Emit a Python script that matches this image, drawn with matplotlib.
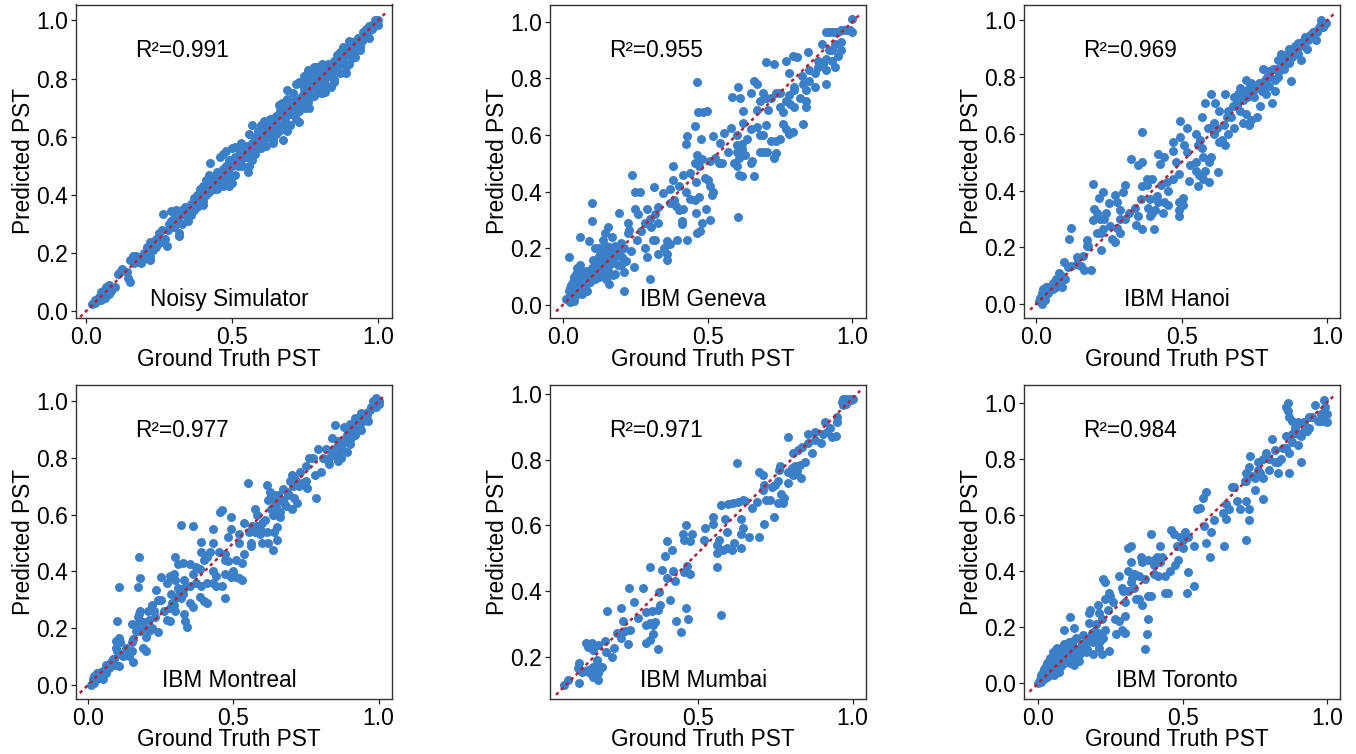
import matplotlib
matplotlib.use("Agg")
import matplotlib.pyplot as plt

plt.rcParams['font.family'] = ['Liberation Sans', 'DejaVu Sans']

names = ["Noisy Simulator", "IBM Geneva", "IBM Hanoi", "IBM Montreal", "IBM Mumbai", "IBM Toronto"]
r2_labels = ["R²=0.991", "R²=0.955", "R²=0.969", "R²=0.977", "R²=0.971", "R²=0.984"]

noisy_points = [
(.02,.025),(.03,.03),(.03,.04),(.04,.04),(.045,.05),(.05,.04),(.05,.065),(.06,.05),(.06,.07),(.065,.045),(.07,.085),(.07,.065),(.08,.06),(.08,.09),(.085,.07),(.09,.08),(.10,.085),
(.115,.135),(.125,.145),(.14,.135),(.145,.115),(.15,.10),(.15,.175),(.16,.19),(.165,.165),(.18,.17),(.19,.165),(.2,.20),(.2,.18),(.21,.22),(.22,.24),(.22,.19),(.22,.175),(.23,.21),(.24,.25),(.24,.22),(.25,.27),(.25,.235),(.26,.28),(.27,.25),(.28,.28),(.278,.225),(.285,.30),
(.265,.335),(.29,.345),(.3,.32),(.3,.29),(.31,.35),(.31,.30),(.32,.33),(.32,.27),(.33,.35),(.33,.30),(.32,.26),(.34,.36),(.34,.33),(.35,.31),(.36,.37),(.36,.33),(.37,.39),(.37,.35),(.38,.40),(.38,.36),(.385,.365),(.39,.42),(.40,.43),(.40,.38),(.41,.45),(.41,.40),(.42,.47),(.42,.41),(.40,.365),
(.424,.511),(.43,.44),(.44,.46),(.45,.48),(.45,.42),(.46,.53),(.47,.54),(.47,.49),(.47,.43),(.48,.50),(.48,.45),(.49,.52),(.49,.43),(.5,.56),(.5,.50),(.5,.44),(.51,.53),(.51,.47),(.52,.56),(.52,.50),(.53,.58),(.53,.52),(.54,.55),(.55,.57),(.55,.53),(.555,.48),(.56,.50),(.57,.58),(.57,.52),(.58,.60),(.58,.54),(.59,.62),(.59,.56),(.6,.58),(.6,.56),(.61,.63),(.61,.59),(.62,.65),(.62,.60),(.63,.66),(.63,.60),(.64,.63),(.64,.58),(.65,.65),(.65,.61),(.66,.67),(.66,.62),(.67,.70),(.67,.64),(.675,.59),
(.63,.65),(.65,.67),(.68,.72),(.68,.66),(.69,.73),(.69,.69),(.69,.62),(.7,.68),(.7,.64),(.71,.75),(.71,.70),(.72,.73),(.72,.66),(.73,.69),(.73,.65),(.74,.78),(.74,.74),(.75,.79),(.75,.70),(.76,.76),(.76,.72),(.77,.81),(.77,.74),(.78,.82),(.78,.77),(.79,.84),(.79,.76),(.8,.80),(.8,.76),(.81,.85),(.81,.82),(.81,.75),(.82,.80),(.82,.78),(.83,.85),(.83,.81),(.84,.84),(.84,.81),(.85,.86),(.85,.80),(.86,.88),(.86,.84),(.87,.89),(.87,.85),(.88,.91),(.88,.86),(.89,.90),(.89,.82),(.9,.93),(.9,.88),(.91,.90),(.91,.87),(.92,.93),(.92,.90),(.93,.94),(.94,.91),(.95,.96),(.95,.94),(.96,.97),(.97,.94),(.97,.98),(.98,.97),(.99,1.0),(1.0,1.0),(1.0,.985),
(.07,.075),(.11,.13),(.17,.19),(.185,.185),(.21,.20),(.23,.235),(.255,.25),(.29,.31),(.315,.315),(.345,.345),(.355,.355),(.375,.375),(.395,.395),(.415,.425),(.435,.43),(.445,.44),(.455,.45),(.465,.46),(.475,.475),(.485,.48),(.495,.47),(.505,.51),(.515,.52),(.525,.54),(.535,.50),(.545,.53),(.555,.56),(.565,.55),(.575,.56),(.585,.58),(.595,.60),(.605,.61),(.615,.57),(.625,.63),(.635,.62),(.645,.64),(.655,.64),(.665,.69),(.675,.67),(.685,.68),(.695,.71),(.705,.72),(.715,.68),(.725,.71),(.735,.72),(.745,.76),(.755,.74),(.765,.78),(.775,.79),(.785,.80),(.795,.78),(.805,.78),(.815,.83),(.825,.82),(.835,.83),(.845,.85),(.855,.83),(.865,.87),(.875,.87),(.885,.88),(.895,.89),(.905,.92),(.915,.91),(.925,.92),(.935,.93),(.945,.93),(.955,.95),(.965,.96),(.975,.97),(.985,.99),(.995,.99),
(.44,.42),(.48,.55),(.51,.565),(.56,.61),(.57,.64),(.60,.64),(.61,.655),(.64,.59),(.66,.71),(.67,.715),(.69,.76),(.70,.64),(.72,.78),(.73,.79),(.745,.81),(.76,.83),(.78,.84),(.765,.70),(.78,.74),(.805,.75),(.82,.755),(.84,.77),(.85,.79),(.87,.82),(.89,.84),(.90,.85),(.92,.875),(.94,.90),
]

geneva_points = [
(.02,.02),(.02,.05),(.025,.01),(.03,.03),(.03,.07),(.035,.04),(.04,.015),(.04,.06),(.04,.09),(.045,.11),(.045,.035),(.05,.07),(.05,.13),(.055,.05),(.055,.10),(.06,.08),(.06,.14),(.065,.04),(.07,.06),(.07,.10),(.075,.07),(.08,.12),(.08,.09),(.085,.05),(.09,.10),(.095,.08),(.10,.13),(.10,.11),(.105,.16),(.11,.09),(.115,.14),(.12,.12),(.125,.10),(.13,.18),(.13,.15),(.14,.12),(.14,.20),(.15,.17),(.15,.09),(.16,.075),(.16,.14),(.165,.19),(.17,.15),(.175,.105),(.18,.11),(.18,.17),(.19,.19),(.20,.14),(.205,.17),(.21,.115),(.21,.05),
(.02,.17),(.06,.24),(.09,.225),(.10,.295),(.10,.36),(.11,.20),(.12,.165),(.125,.20),(.14,.23),(.145,.255),(.155,.275),(.16,.205),(.17,.24),(.18,.21),(.195,.325),(.20,.22),(.21,.20),(.22,.155),(.225,.29),(.225,.255),(.23,.265),(.235,.19),(.245,.135),(.24,.46),(.25,.40),(.265,.40),(.25,.34),(.26,.32),(.255,.23),(.27,.26),(.285,.20),(.29,.17),(.3,.09),(.285,.29),(.29,.34),(.3,.305),(.31,.23),(.32,.23),(.305,.275),(.315,.415),(.32,.32),(.33,.18),(.33,.345),(.33,.29),(.35,.20),(.345,.395),(.36,.16),(.36,.18),(.37,.41),(.37,.36),(.36,.225),(.37,.215),(.38,.44),(.38,.49),(.385,.37),(.39,.35),(.395,.23),(.40,.335),(.41,.295),(.41,.285),(.415,.34),(.40,.42),(.415,.46),(.425,.40),(.44,.465),(.43,.23),(.44,.375),(.455,.37),(.46,.325),(.46,.435),(.465,.255),(.475,.26),(.47,.38),(.48,.29),(.495,.34),(.51,.30),
(.455,.50),(.465,.53),(.47,.49),(.48,.515),(.49,.45),(.50,.44),(.51,.42),(.515,.39),(.52,.40),(.605,.31),(.51,.51),(.525,.52),(.54,.50),(.55,.50),(.57,.54),(.59,.50),(.60,.54),(.60,.49),(.61,.52),(.61,.46),(.62,.455),(.66,.455),(.65,.50),(.655,.51),(.63,.53),(.62,.55),(.62,.57),
(.463,.786),(.468,.68),(.485,.68),(.497,.685),(.455,.633),(.428,.595),(.426,.568),(.476,.585),(.518,.595),(.555,.606),(.58,.624),(.583,.733),(.606,.768),(.612,.73),(.624,.686),(.621,.642),(.60,.60),(.543,.571),(.60,.565),(.635,.585),(.65,.62),(.67,.63),(.68,.60),(.69,.60),(.70,.635),(.72,.58),(.735,.58),(.68,.54),(.695,.54),(.705,.54),(.735,.535),(.73,.52),(.75,.585),(.77,.62),(.78,.605),(.795,.61),(.83,.64),(.76,.64),
(.65,.75),(.66,.79),(.67,.78),(.69,.75),(.70,.857),(.68,.72),(.67,.69),(.70,.73),(.71,.69),(.72,.73),(.735,.75),(.75,.75),(.75,.70),(.76,.68),(.77,.72),(.785,.71),(.80,.70),(.78,.74),(.80,.77),(.82,.73),(.84,.72),(.84,.70),(.80,.76),(.73,.85),(.77,.86),(.78,.82),(.795,.88),(.81,.875),(.825,.81),(.83,.78),(.85,.79),(.85,.83),(.848,.894),(.87,.77),(.91,.78),(.84,.76),(.87,.82),(.88,.86),(.895,.92),(.90,.85),(.91,.87),(.92,.90),(.94,.92),(.96,.93),(.91,.83),(.94,.84),(.95,.88),(.93,.86),(.88,.84),
(.91,.965),(.92,.965),(.93,.965),(.94,.965),(.95,.965),(.96,.97),(.97,.97),(.98,.97),(.99,.97),(1.0,.965),(.998,1.01),(.96,.90),(.93,.90),
(.01,.02),(.025,.06),(.03,.045),(.035,.08),(.035,.025),(.04,.10),(.045,.05),(.05,.09),(.055,.12),(.06,.06),(.065,.095),(.07,.115),(.075,.09),(.08,.07),(.085,.10),(.09,.12),(.095,.11),(.10,.09),(.11,.12),(.115,.10),(.125,.13),(.135,.17),(.145,.14),(.155,.12),(.165,.17),(.17,.17),(.145,.19),(.15,.21),(.19,.14),(.195,.18),
]

hanoi_points = [
(.01,.01),(.015,.02),(.02,.04),(.02,0.0),(.025,.055),(.03,.03),(.03,.015),(.035,.06),(.04,.04),(.045,.06),(.06,.075),(.06,.055),(.07,.09),(.07,.06),(.08,.11),(.08,.07),(.09,.10),(.09,.06),(.095,.15),(.10,.09),(.11,.13),(.12,.135),(.12,.27),(.115,.23),(.14,.14),(.14,.165),(.155,.135),(.16,.17),(.165,.12),(.18,.205),(.175,.205),(.175,.225),
(.195,.295),(.20,.335),(.21,.32),(.21,.25),(.215,.375),(.22,.30),(.225,.25),(.225,.19),(.23,.265),(.23,.395),(.235,.30),(.24,.32),(.25,.355),(.255,.275),(.26,.23),(.27,.22),(.27,.385),(.28,.27),(.28,.36),(.29,.33),(.29,.25),(.29,.30),(.30,.395),(.305,.30),(.305,.42),(.32,.32),(.325,.51),(.34,.34),(.345,.28),(.35,.31),(.35,.49),(.36,.37),(.365,.50),(.365,.265),(.365,.415),(.365,.605),(.38,.44),(.38,.42),(.385,.34),(.39,.37),(.39,.31),(.40,.44),(.40,.32),(.405,.265),(.41,.33),(.415,.38),(.42,.53),(.42,.36),(.425,.495),(.43,.42),(.435,.32),(.44,.52),(.44,.36),(.45,.43),(.455,.40),(.455,.35),(.47,.44),(.47,.57),(.47,.54),(.48,.50),(.49,.46),(.49,.36),(.49,.31),(.49,.33),(.495,.59),(.495,.645),(.505,.375),(.505,.35),(.51,.56),(.52,.62),(.52,.535),(.525,.435),(.53,.49),(.555,.415),(.55,.50),(.55,.47),(.555,.56),(.55,.60),(.56,.455),
(.565,.58),(.57,.55),(.57,.66),(.575,.44),(.575,.52),(.58,.47),(.59,.62),(.595,.50),(.60,.52),(.595,.43),(.61,.60),(.61,.64),(.625,.465),(.58,.71),(.60,.74),(.615,.71),(.63,.68),(.63,.57),(.64,.58),(.645,.63),(.65,.56),(.66,.68),(.66,.60),(.65,.74),(.67,.66),(.68,.73),(.68,.62),(.69,.71),(.69,.70),(.70,.76),(.70,.68),(.71,.72),(.71,.64),(.72,.79),(.72,.67),(.73,.76),(.73,.63),(.74,.78),(.74,.65),(.75,.73),(.76,.66),(.77,.70),(.78,.83),(.78,.76),(.79,.74),(.80,.82),(.80,.77),(.81,.71),(.82,.75),(.82,.79),(.83,.86),(.83,.80),(.84,.88),(.84,.83),(.85,.85),(.87,.90),(.87,.87),(.875,.785),(.88,.87),(.89,.91),(.90,.92),(.90,.88),(.91,.86),(.92,.93),(.93,.90),(.94,.95),(.95,.96),(.96,.93),(.97,.97),(.98,1.0),(.985,.975),(.99,.985),(.995,.99),
(.19,.12),(.195,.425),
(.025,.02),(.05,.06),(.075,.08),(.085,.085),(.62,.62),(.655,.66),(.675,.70),(.685,.70),(.695,.74),(.705,.74),(.715,.75),(.725,.73),(.735,.74),(.745,.75),(.755,.77),(.765,.78),(.775,.75),(.785,.79),(.795,.80),(.805,.80),(.815,.83),(.825,.83),(.835,.83),(.845,.86),(.855,.87),(.865,.88),(.875,.89),(.885,.89),(.895,.90),(.905,.91),(.915,.92),(.925,.94),(.935,.93),(.945,.94),(.955,.95),(.965,.96),(.975,.98),(.835,.82),(.85,.83),(.87,.85),
]

montreal_points = [
(.01,0.0),(.015,.02),(.02,.03),(.02,.005),(.03,.04),(.03,.02),(.04,.03),(.05,.05),(.05,.02),(.06,.07),(.06,.04),(.07,.06),(.08,.08),(.09,.07),(.09,.09),(.10,.12),(.105,.065),(.11,.11),(.095,.155),(.095,.13),(.10,.225),(.105,.165),(.11,.15),(.12,.10),(.13,.13),(.14,.10),(.15,.12),(.155,.08),(.155,.16),(.15,.215),(.16,.21),(.165,.19),(.17,.24),(.175,.25),(.18,.26),(.18,.19),(.19,.22),(.19,.13),(.20,.17),(.20,.12),(.205,.26),(.21,.23),(.22,.28),(.22,.20),(.23,.24),(.24,.185),(.24,.30),(.25,.30),(.26,.26),(.27,.23),(.28,.27),(.28,.225),(.285,.32),(.29,.29),(.30,.26),(.31,.34),(.32,.305),(.33,.34),(.33,.25),(.335,.225),(.34,.205),(.35,.29),(.36,.275),(.33,.37),(.35,.35),(.37,.36),(.385,.31),(.40,.295),(.41,.29),(.41,.36),(.43,.36),(.44,.35),(.46,.35),(.47,.305),
(.105,.345),(.17,.345),(.175,.45),(.18,.375),(.235,.335),(.25,.38),(.27,.36),(.28,.385),(.295,.39),(.30,.45),(.31,.425),(.30,.37),(.325,.43),(.35,.425),(.36,.56),(.32,.565),(.36,.39),(.37,.415),(.385,.41),(.39,.35),(.39,.505),(.39,.47),(.40,.44),(.41,.45),(.42,.47),(.43,.50),(.43,.40),(.43,.55),(.44,.385),(.45,.47),(.455,.61),(.46,.615),(.47,.39),(.47,.46),(.47,.44),(.48,.435),(.48,.52),(.49,.59),(.49,.55),(.49,.38),(.50,.40),(.51,.44),(.51,.38),(.52,.50),(.52,.53),(.52,.375),(.53,.37),(.53,.43),(.535,.57),(.535,.46),(.55,.71),(.56,.50),(.56,.49),(.555,.54),(.565,.56),(.575,.54),(.575,.62),(.58,.60),(.59,.53),(.59,.55),(.60,.50),(.60,.57),(.61,.58),(.615,.54),(.615,.705),(.62,.50),(.62,.65),(.63,.66),(.63,.62),(.64,.67),(.64,.60),(.64,.54),(.635,.475),(.65,.51),(.65,.62),(.65,.555),(.655,.67),(.66,.59),(.67,.69),(.67,.65),(.68,.63),(.69,.67),(.70,.74),(.70,.62),(.71,.73),(.71,.66),(.72,.64),(.73,.75),(.735,.71),(.75,.72),(.755,.695),(.785,.66),
(.75,.77),(.76,.80),(.775,.80),(.78,.74),(.79,.83),(.80,.75),(.82,.83),(.825,.79),(.83,.78),(.84,.87),(.84,.82),(.85,.81),(.86,.79),(.86,.86),(.87,.80),(.875,.85),(.88,.91),(.85,.915),(.89,.82),(.89,.88),(.90,.85),(.90,.92),(.91,.90),(.92,.94),(.92,.88),(.93,.91),(.94,.96),(.94,.90),(.95,.94),(.96,.95),(.97,.97),(.98,1.0),(.99,.98),(1.0,1.0),(1.0,.99),(.99,1.01),
(.025,.025),(.035,.035),(.045,.045),(.075,.075),(.085,.09),(.15,.15),(.165,.21),(.175,.19),(.185,.22),(.195,.20),(.21,.19),(.225,.26),(.295,.28),(.305,.31),(.315,.33),(.325,.32),(.58,.56),(.60,.54),(.625,.68),(.635,.60),(.645,.64),(.66,.61),(.675,.64),(.685,.68),(.695,.72),(.705,.70),(.715,.72),(.725,.70),(.81,.80),(.83,.80),(.845,.83),(.855,.84),(.865,.82),(.875,.83),(.885,.86),(.895,.89),(.905,.87),(.915,.92),(.925,.93),(.935,.92),(.945,.93),(.955,.96),(.965,.93),(.975,.98),(.985,.99),
]

mumbai_points = [
(.068,.116),(.081,.131),(.114,.121),(.115,.182),(.113,.167),(.135,.157),(.151,.151),(.167,.162),(.183,.167),(.172,.192),(.176,.131),(.189,.172),(.178,.151),(.162,.141),(.119,.162),(.125,.155),(.145,.16),(.16,.17),(.175,.18),(.18,.16),
(.138,.242),(.157,.244),(.145,.232),(.161,.222),(.178,.237),(.199,.248),(.203,.217),(.221,.202),(.228,.227),(.237,.273),(.25,.258),(.259,.31),(.251,.351),(.206,.339),(.293,.369),(.276,.409),(.323,.411),(.275,.24),(.28,.283),(.264,.28),(.305,.318),(.331,.337),(.35,.34),(.331,.298),(.345,.303),(.361,.308),(.356,.298),(.332,.244),(.345,.253),(.356,.27),(.37,.225),(.37,.344),(.377,.359),(.374,.397),(.344,.475),(.383,.465),(.393,.507),(.399,.553),(.415,.526),(.401,.44),(.42,.462),(.426,.432),(.409,.374),(.429,.311),(.444,.276),(.461,.349),(.469,.316),(.455,.46),(.466,.477),(.474,.452),
(.453,.574),(.455,.556),(.461,.6),(.474,.554),(.481,.575),(.523,.591),(.52,.557),(.547,.627),(.55,.604),(.567,.556),(.56,.541),(.56,.517),(.56,.473),(.573,.328),(.573,.662),(.587,.62),(.58,.526),(.593,.533),(.593,.579),(.598,.664),(.609,.526),(.616,.546),(.614,.667),(.63,.67),(.638,.62),(.647,.676),(.652,.674),(.638,.533),(.647,.591),(.638,.573),(.625,.789),(.666,.564),(.698,.566),(.673,.654),(.692,.67),(.713,.606),(.72,.677),(.733,.676),(.747,.627),(.758,.667),(.776,.667),(.768,.697),(.778,.682),
(.709,.708),(.713,.723),(.698,.763),(.711,.753),(.738,.718),(.749,.723),(.76,.735),(.762,.768),(.765,.781),(.792,.728),(.792,.763),(.803,.773),(.808,.753),(.832,.745),(.83,.783),(.846,.794),(.808,.819),(.792,.869),(.824,.829),(.835,.839),(.87,.819),(.857,.879),(.878,.885),(.857,.849),(.878,.859),(.899,.849),(.905,.879),(.911,.915),(.927,.897),(.932,.869),(.946,.871),(.916,.885),(.948,.93),(.948,.915),(.80,.76),(.815,.78),(.82,.765),
(.964,.975),(.97,.984),(.975,.972),(.98,.985),(.985,.977),(.99,.985),(.995,.98),(1.0,.984),(.968,.966),(.98,.968),
]

toronto_points = [
(0.0,0.0),(.005,.01),(.01,.02),(.01,.005),(.015,.04),(.02,.05),(.02,.015),(.025,.03),(.03,.07),(.03,.02),(.035,.05),(.04,.06),(.04,.03),(.045,.08),(.05,.11),(.05,.045),(.055,.03),(.06,.09),(.06,.05),(.065,.125),(.07,.08),(.07,.04),(.075,.115),(.08,.06),(.085,.10),(.085,.13),(.09,.07),(.09,.19),(.095,.09),(.10,.14),(.10,.08),(.105,.12),(.11,.07),(.115,.10),(.12,.15),(.125,.09),(.13,.12),(.125,.065),(.14,.10),(.14,.08),(.11,.235),(.125,.195),(.13,.16),(.15,.14),(.155,.17),(.165,.11),(.17,.12),(.175,.215),(.18,.16),(.19,.145),(.19,.105),(.195,.185),(.20,.21),(.205,.18),(.21,.125),(.215,.15),(.22,.105),(.225,.16),(.23,.19),(.245,.115),
(.175,.25),(.18,.26),(.205,.28),(.21,.25),(.22,.23),(.225,.37),(.23,.36),(.23,.30),(.24,.26),(.245,.32),(.25,.31),(.26,.29),(.265,.23),(.27,.175),(.28,.22),(.29,.19),(.30,.18),(.30,.24),(.28,.38),(.29,.34),(.295,.33),(.31,.40),(.30,.29),(.31,.48),(.32,.49),(.32,.43),(.325,.375),(.33,.34),(.34,.30),(.34,.385),(.35,.30),(.36,.28),(.355,.45),(.37,.37),(.38,.31),(.37,.12),(.375,.175),(.38,.23),(.39,.53),(.39,.31),(.40,.39),(.40,.44),(.42,.49),(.42,.43),(.415,.38),(.43,.45),(.44,.38),(.455,.40),(.45,.32),(.44,.32),(.46,.545),(.47,.53),(.475,.42),(.49,.52),(.48,.49),(.485,.44),(.50,.51),(.50,.48),(.515,.32),(.51,.54),(.52,.52),(.52,.395),(.54,.345),(.54,.49),(.55,.62),(.56,.625),(.57,.66),(.58,.68),(.575,.56),(.58,.50),(.595,.45),(.60,.54),(.61,.58),(.64,.605),(.65,.585),(.65,.64),(.66,.62),(.645,.49),(.67,.70),(.68,.70),(.69,.65),(.70,.62),(.72,.65),(.73,.62),(.73,.58),(.75,.69),(.72,.51),(.78,.655),
(.715,.72),(.72,.75),(.73,.77),(.735,.81),(.75,.73),(.76,.79),(.77,.75),(.78,.73),(.79,.82),(.80,.76),(.81,.87),(.82,.83),(.83,.79),(.83,.75),(.85,.84),(.87,.75),(.91,.79),(.86,.88),(.87,.82),(.88,.86),(.89,.91),(.90,.85),(.91,.88),(.92,.93),(.93,.90),(.94,.95),(.95,.95),
(.86,.985),(.865,1.0),(.865,.97),(.87,.95),(.88,.935),(.90,.93),(.92,.93),(.96,.99),(.99,1.01),(.995,.985),(.97,.935),(.98,.935),(.99,.935),(1.0,.93),(1.0,.96),(.98,.96),
(.01,.03),(.02,.035),(.025,.06),(.03,.045),(.035,.08),(.04,.09),(.045,.055),(.05,.07),(.055,.10),(.06,.12),(.065,.07),(.07,.10),(.075,.09),(.08,.12),(.09,.14),(.095,.12),(.105,.145),(.115,.14),(.125,.12),(.135,.11),(.145,.12),(.16,.14),(.17,.15),(.185,.18),(.20,.16),(.31,.33),(.32,.36),(.33,.39),(.35,.38),(.36,.43),(.38,.44),(.40,.42),(.41,.45),(.72,.72),(.74,.74),(.76,.76),(.78,.80),(.80,.80),(.82,.79),(.84,.80),(.86,.84),(.88,.89),(.90,.89),(.92,.90),(.94,.91),
]

all_points = [noisy_points, geneva_points, hanoi_points, montreal_points, mumbai_points, toronto_points]
xlims = [(-.034, 1.048), (-.044, 1.048), (-.041, 1.045), (-.042, 1.046), (.0217, 1.044), (-.05, 1.047)]
ylims = [(-.024, 1.055), (-.047, 1.061), (-.05, 1.056), (-.05, 1.056), (.0734, 1.0255), (-.057, 1.062)]
line_x = [(-.02, 1.025), (-.023, 1.029), (-.02, 1.025), (-.029, 1.023), (.041, 1.024), (-.031, 1.023)]
line_y = [(-.02, 1.025), (-.023, 1.029), (-.02, 1.025), (-.029, 1.023), (.086, 1.009), (-.031, 1.023)]
yticks = [[0, .2, .4, .6, .8, 1], [0, .2, .4, .6, .8, 1], [0, .2, .4, .6, .8, 1],
          [0, .2, .4, .6, .8, 1], [.2, .4, .6, .8, 1], [0, .2, .4, .6, .8, 1]]
xticks = [[0, .5, 1], [0, .5, 1], [0, .5, 1], [0, .5, 1], [.5, 1], [0, .5, 1]]

W, H = 1356, 754
lefts = [76, 550, 1024]
rights = [392, 866.3, 1340.3]
rows = [(4.5, 318.3), (385.3, 699)]

fig = plt.figure(figsize=(W / 100, H / 100), dpi=100)
for i in range(6):
    col = i % 3
    top, bottom = rows[i // 3]
    ax = fig.add_axes([lefts[col] / W, 1 - bottom / H, (rights[col] - lefts[col]) / W, (bottom - top) / H])
    xs = [p[0] for p in all_points[i]]
    ys = [p[1] for p in all_points[i]]
    ax.scatter(xs, ys, s=42, color='#3a7fc8', linewidths=0, zorder=2)
    ax.plot(line_x[i], line_y[i], color='#b0243c', lw=1.8, dashes=(1.4, 1.4), zorder=3)
    ax.set_xlim(*xlims[i])
    ax.set_ylim(*ylims[i])
    ax.set_xticks(xticks[i])
    ax.set_yticks(yticks[i])
    ax.set_xticklabels([f"{v:.1f}" for v in xticks[i]])
    ax.set_yticklabels([f"{v:.1f}" for v in yticks[i]])
    ax.tick_params(labelsize=16.5, length=3.5, width=0.9, pad=2, color='#222222')
    ax.set_xlabel("Ground Truth PST", fontsize=16.3)
    ax.xaxis.set_label_coords(.484, -.094)
    ax.set_ylabel("Predicted PST", fontsize=16.3, labelpad=1)
    for s in ax.spines.values():
        s.set_linewidth(1.0)
        s.set_color('#333333')
    ax.text(.187, .855, r2_labels[i], transform=ax.transAxes, fontsize=16.3, va='center', ha='left')
    ax.text(.484, .06, names[i], transform=ax.transAxes, fontsize=16.3, va='center', ha='center')

fig.savefig("out.png", dpi=100)
